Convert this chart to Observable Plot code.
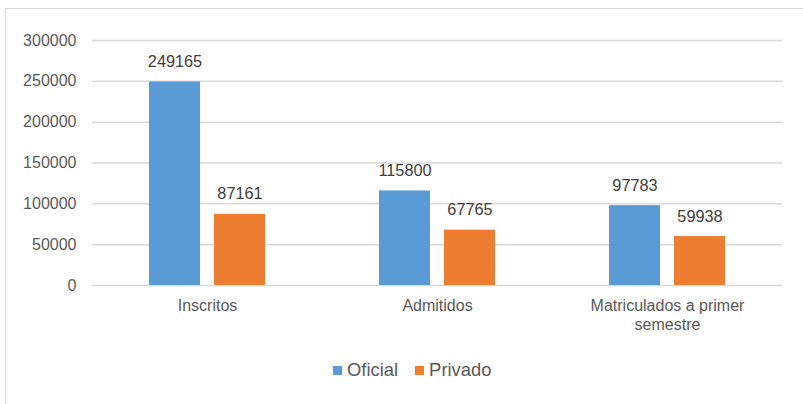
<!DOCTYPE html>
<html>
<head>
<meta charset="utf-8">
<script src="https://cdn.jsdelivr.net/npm/d3@7"></script>
<script src="https://cdn.jsdelivr.net/npm/@observablehq/plot@0.6"></script>
<style>
  html, body { margin: 0; padding: 0; background: #fff; }
  body { width: 803px; height: 404px; position: relative; overflow: hidden; font-family: "Liberation Sans", Arial, sans-serif; }
  #frame { position: absolute; left: 5px; top: 8px; width: 820px; height: 420px; border-top: 1.5px solid #d9d9d9; border-left: 1.5px solid #d9d9d9; box-sizing: border-box; }
  #chart { position: absolute; left: 0; top: 0; }
  #legend { position: absolute; top: 359px; left: 333px; display: flex; align-items: center; font-size: 18.4px; color: #595959; }
  #legend .sw { width: 9px; height: 9px; display: inline-block; margin-right: 5px; }
  #legend .item { display: flex; align-items: center; margin-right: 17px; }
</style>
</head>
<body>
<div id="frame"></div>
<div id="chart"></div>
<div id="legend"></div>
<script>
const categories = ["Inscritos", "Admitidos", "Matriculados a primer semestre"];
const categoryLabels = ["Inscritos", "Admitidos", "Matriculados a primer\nsemestre"];
const series = ["Oficial", "Privado"];
const oficial = [249165, 115800, 97783];
const privado = [87161, 67765, 59938];
const yTicks = [0, 50000, 100000, 150000, 200000, 250000, 300000];
const colors = ["#5B9BD5", "#ED7D31"];

const data = [];
categories.forEach((c, i) => {
  data.push({cat: c, serie: "Oficial", value: oficial[i]});
  data.push({cat: c, serie: "Privado", value: privado[i]});
});
const labelMap = new Map(categories.map((c, i) => [c, categoryLabels[i]]));

const plot = Plot.plot({
  width: 803,
  height: 340,
  marginLeft: 92,
  marginRight: 21,
  marginTop: 40,
  marginBottom: 55,
  style: {fontFamily: "'Liberation Sans', Arial, sans-serif", fontSize: "16px", background: "transparent"},
  fx: {domain: categories, padding: 0, label: null, axis: null},
  x: {domain: series, paddingInner: 0.214, paddingOuter: 0.863, axis: null},
  y: {domain: [0, 300000], ticks: yTicks, label: null},
  color: {domain: series, range: colors},
  marks: [
    Plot.ruleY(yTicks, {stroke: "#d9d9d9", strokeWidth: 1.5}),
    Plot.axisY({ticks: yTicks, tickSize: 0, tickPadding: 16, label: null, fill: "#595959", fontSize: 16, tickFormat: d => String(d)}),
    Plot.axisFx({anchor: "bottom", domain: categories, tickSize: 0, tickPadding: 12, label: null, fill: "#595959", fontSize: 16, lineAnchor: "top", tickFormat: d => labelMap.get(d), lineHeight: 1.2}),
    Plot.barY(data, {fx: "cat", x: "serie", y: "value", fill: "serie"}),
    Plot.text(data, {fx: "cat", x: "serie", y: "value", text: d => String(d.value), lineAnchor: "bottom", dy: -15, fill: "#404040", fontSize: 16.3})
  ]
});
document.getElementById("chart").appendChild(plot);

const legend = document.getElementById("legend");
series.forEach((s, i) => {
  const item = document.createElement("span");
  item.className = "item";
  const sw = document.createElement("span");
  sw.className = "sw";
  sw.style.background = colors[i];
  item.appendChild(sw);
  item.appendChild(document.createTextNode(s));
  legend.appendChild(item);
});
</script>
</body>
</html>
